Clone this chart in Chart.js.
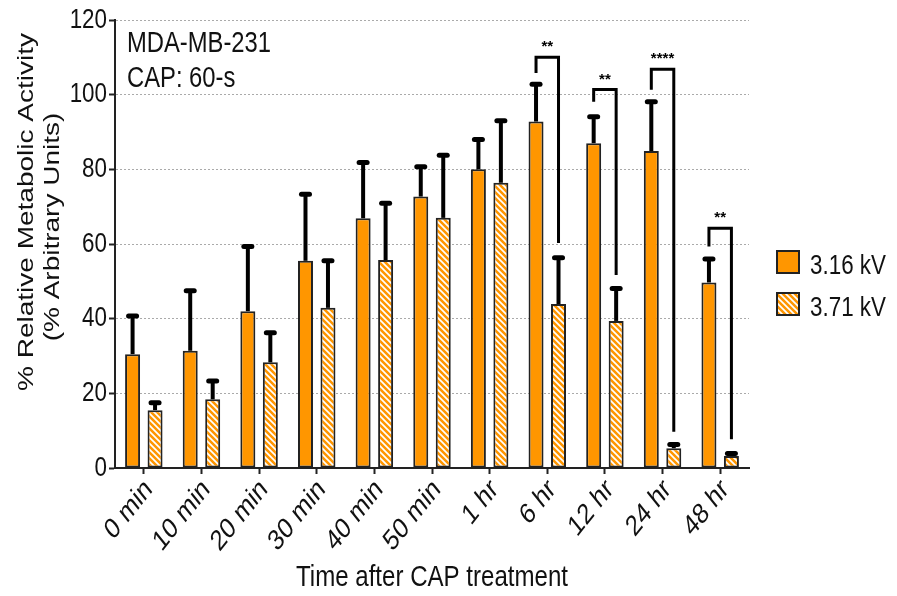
<!DOCTYPE html>
<html>
<head>
<meta charset="utf-8">
<script src="https://cdn.jsdelivr.net/npm/chart.js@4"></script>
<style>
  body { margin: 0; background: #fff; }
  #wrap { width: 897px; height: 596px; }
</style>
</head>
<body>
<div id="wrap"><canvas id="chart" width="897" height="596"></canvas></div>
<script>
// data
const categories = ['0 min', '10 min', '20 min', '30 min', '40 min', '50 min', '1 hr', '6 hr', '12 hr', '24 hr', '48 hr'];
const seriesNames = ['3.16 kV', '3.71 kV'];
const lowKv = [30.5, 31.4, 42, 55.5, 66.9, 72.7, 80, 92.8, 87, 84.9, 49.7];
const lowKvSd = [10.2, 16.1, 17.3, 17.8, 14.9, 8, 8, 10, 7.1, 13.2, 6.3];
const highKv = [15.5, 18.4, 28.3, 42.9, 55.7, 67, 76.4, 43.9, 39.4, 5.3, 3.2];
const highKvSd = [2, 4.9, 7.9, 12.6, 15.2, 16.8, 16.6, 12.4, 8.7, 1, 0.7];
const yTicks = [0, 20, 40, 60, 80, 100, 120];

// significance brackets (category index, label, top, left leg end, right leg end)
const sigIndex = [7, 8, 9, 10];
const sigLabels = ['**', '**', '****', '**'];
const sigTop = [110, 101.4, 106.8, 64.2];
const sigLeftEnd = [105.8, 98.1, 101.3, 59.3];
const sigRightEnd = [60.3, 51.7, 9.7, 7.7];

const ORANGE = '#ff9600';
const SANS = "'Liberation Sans', Arial, sans-serif";

function makeHatch() {
  const c = document.createElement('canvas');
  c.width = 6; c.height = 6;
  const g = c.getContext('2d');
  g.fillStyle = ORANGE;
  g.fillRect(0, 0, 6, 6);
  g.strokeStyle = '#fff';
  g.lineWidth = 1.7;
  g.beginPath();
  g.moveTo(-3, -3); g.lineTo(9, 9);
  g.moveTo(-3, 3); g.lineTo(3, 9);
  g.moveTo(3, -3); g.lineTo(9, 3);
  g.stroke();
  return g.createPattern(c, 'repeat');
}
const hatch = makeHatch();

// the source image is squeezed horizontally, so text is drawn narrowed
function squeezedText(ctx, text, x, y, opts) {
  ctx.save();
  ctx.translate(x, y);
  ctx.scale(opts.sx || 0.8, 1);
  if (opts.rot) ctx.rotate(opts.rot);
  ctx.font = (opts.size || 28) + 'px ' + SANS;
  ctx.textAlign = opts.align || 'left';
  ctx.textBaseline = opts.base || 'alphabetic';
  ctx.fillStyle = '#111';
  ctx.fillText(text, 0, 0);
  ctx.restore();
}

const extras = {
  id: 'extras',
  beforeDraw(chart) {
    const ctx = chart.ctx;
    ctx.save();
    ctx.fillStyle = '#fff';
    ctx.fillRect(0, 0, chart.width, chart.height);
    ctx.restore();
  },
  afterDatasetsDraw(chart) {
    const ctx = chart.ctx;
    const y = chart.scales.y;
    const sds = [lowKvSd, highKvSd];
    ctx.save();
    ctx.strokeStyle = '#000';
    ctx.fillStyle = '#000';
    // error bars, upward only
    chart.data.datasets.forEach((ds, di) => {
      chart.getDatasetMeta(di).data.forEach((bar, i) => {
        const top = y.getPixelForValue(ds.data[i] + sds[di][i]);
        ctx.lineWidth = 4;
        ctx.lineCap = 'butt';
        ctx.beginPath();
        ctx.moveTo(bar.x, bar.y);
        ctx.lineTo(bar.x, top);
        ctx.stroke();
        ctx.lineWidth = 5;
        ctx.lineCap = 'round';
        ctx.beginPath();
        ctx.moveTo(bar.x - 4, top);
        ctx.lineTo(bar.x + 4, top);
        ctx.stroke();
      });
    });
    // brackets
    const m0 = chart.getDatasetMeta(0).data;
    const m1 = chart.getDatasetMeta(1).data;
    ctx.lineWidth = 3;
    ctx.lineCap = 'butt';
    ctx.lineJoin = 'miter';
    ctx.font = 'bold 15px ' + SANS;
    ctx.textAlign = 'center';
    ctx.textBaseline = 'middle';
    sigIndex.forEach((ci, k) => {
      const xl = m0[ci].x, xr = m1[ci].x;
      const yt = y.getPixelForValue(sigTop[k]);
      ctx.beginPath();
      ctx.moveTo(xl, y.getPixelForValue(sigLeftEnd[k]));
      ctx.lineTo(xl, yt);
      ctx.lineTo(xr, yt);
      ctx.lineTo(xr, y.getPixelForValue(sigRightEnd[k]));
      ctx.stroke();
      ctx.fillText(sigLabels[k], (xl + xr) / 2, yt - 10);
    });
    ctx.restore();
  },
  afterDraw(chart) {
    const ctx = chart.ctx;
    const x = chart.scales.x;
    const y = chart.scales.y;
    // tick labels
    yTicks.forEach(v => {
      squeezedText(ctx, String(v), 107, y.getPixelForValue(v), { size: 28, align: 'right', base: 'middle' });
    });
    categories.forEach((c, i) => {
      squeezedText(ctx, c, x.getPixelForValue(i) + 5, 485, { size: 29, align: 'right', base: 'middle', rot: -Math.PI / 4 });
    });
    // axis titles
    squeezedText(ctx, 'Time after CAP treatment', (x.left + x.right) / 2, 578, { size: 29, sx: 0.83, align: 'center', base: 'middle' });
    squeezedText(ctx, '% Relative Metabolic Activity', 27, 212, { size: 28, align: 'center', base: 'middle', rot: -Math.PI / 2 });
    squeezedText(ctx, '(% Arbitrary Units)', 53, 227, { size: 28, align: 'center', base: 'middle', rot: -Math.PI / 2 });
    // annotation
    squeezedText(ctx, 'MDA-MB-231', 127, 52, { size: 29, sx: 0.82 });
    squeezedText(ctx, 'CAP: 60-s', 127, 87, { size: 29, sx: 0.82 });
    // legend
    const fills = [ORANGE, hatch];
    const boxTop = [251, 293];
    ctx.save();
    fills.forEach((f, i) => {
      ctx.fillStyle = f;
      ctx.fillRect(777, boxTop[i], 22, 22);
      ctx.strokeStyle = '#222';
      ctx.lineWidth = 2;
      ctx.strokeRect(777, boxTop[i], 22, 22);
      squeezedText(ctx, seriesNames[i], 810, boxTop[i] + 23, { size: 28 });
    });
    ctx.restore();
  }
};

new Chart(document.getElementById('chart'), {
  type: 'bar',
  data: {
    labels: categories,
    datasets: [
      { label: seriesNames[0], data: lowKv, backgroundColor: ORANGE, borderColor: '#222', borderWidth: 2, borderSkipped: false },
      { label: seriesNames[1], data: highKv, backgroundColor: hatch, borderColor: '#222', borderWidth: 2, borderSkipped: false }
    ]
  },
  options: {
    responsive: false,
    animation: false,
    events: [],
    categoryPercentage: 0.78,
    barPercentage: 0.667,
    layout: { padding: { left: 0, right: 148, top: 20, bottom: 0 } },
    plugins: { legend: { display: false }, tooltip: { enabled: false } },
    scales: {
      x: {
        afterFit(s) { s.height = 128; },
        grid: { drawOnChartArea: false, offset: false, tickLength: 6, tickWidth: 2, tickColor: '#222' },
        border: { color: '#222', width: 2 },
        ticks: { display: false }
      },
      y: {
        min: 0,
        max: 120,
        afterFit(s) { s.width = 115; },
        afterBuildTicks(s) { s.ticks = yTicks.map(v => ({ value: v })); },
        grid: { color: '#aaa', lineWidth: 1, tickLength: 6, tickWidth: 2, tickColor: '#222' },
        border: { color: '#222', width: 2, dash: [2, 2] },
        ticks: { display: false }
      }
    }
  },
  plugins: [extras]
});
</script>
</body>
</html>
